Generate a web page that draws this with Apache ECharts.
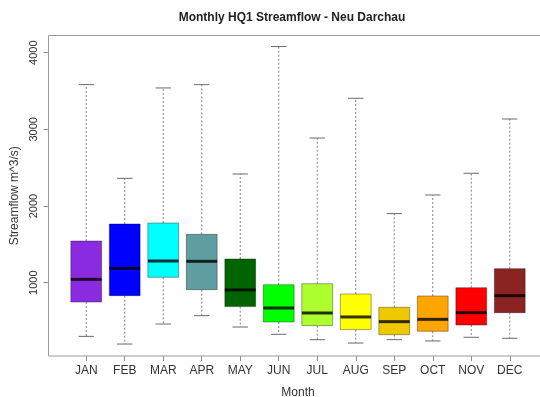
<!DOCTYPE html>
<html>
<head>
<meta charset="utf-8">
<title>Monthly HQ1 Streamflow - Neu Darchau</title>
<script src="https://cdn.jsdelivr.net/npm/echarts@6/dist/echarts.min.js"></script>
<style>
  html, body { margin: 0; padding: 0; background: #ffffff; }
  #chart { width: 540px; height: 397px; }
</style>
</head>
<body>
<div id="chart"></div>
<script>
// Monthly HQ1 streamflow at Neu Darchau (m^3/s): box-and-whisker statistics per month
const months      = ['JAN', 'FEB', 'MAR', 'APR', 'MAY', 'JUN', 'JUL', 'AUG', 'SEP', 'OCT', 'NOV', 'DEC'];
const whiskerLow  = [300, 200, 461, 570, 422, 327, 257, 213, 257, 240, 288, 275];
const quartile1   = [748, 831, 1070, 909, 688, 487, 440, 388, 322, 366, 448, 609];
const medians     = [1044, 1187, 1283, 1279, 905, 670, 605, 553, 492, 522, 609, 831];
const quartile3   = [1544, 1766, 1779, 1631, 1309, 974, 987, 853, 679, 827, 935, 1183];
const whiskerHigh = [3583, 2361, 3540, 3583, 2418, 4080, 2887, 3405, 1901, 2144, 2427, 3135];
const yTicks      = [1000, 2000, 3000, 4000];

// Fill colour of each month's box
const boxColors = ['#8a2be2', '#0000ff', '#00ffff', '#5f9ea0', '#006400', '#00ff00',
                   '#adff2f', '#ffff00', '#eec900', '#ffa500', '#ff0000', '#8b2323'];

const positions = months.map((_, k) => k + 1);
const boxData = months.map((_, k) => [positions[k], whiskerLow[k], quartile1[k], medians[k], quartile3[k], whiskerHigh[k]]);

function renderBox(params, api) {
  const x0 = api.value(0);
  const band = api.size([1, 0])[0];
  const half = band * 0.4;   // box half-width
  const cap = band * 0.2;    // staple half-width
  const pLo = api.coord([x0, api.value(1)]);
  const pQ1 = api.coord([x0, api.value(2)]);
  const pMed = api.coord([x0, api.value(3)]);
  const pQ3 = api.coord([x0, api.value(4)]);
  const pHi = api.coord([x0, api.value(5)]);
  const x = pQ1[0];
  const dash = { stroke: '#808080', lineWidth: 1, lineDash: [2, 2] };
  const staple = { stroke: '#6a6a6a', lineWidth: 1 };
  return {
    type: 'group',
    children: [
      { type: 'line', shape: { x1: x, y1: pQ3[1], x2: x, y2: pHi[1] }, style: dash },
      { type: 'line', shape: { x1: x, y1: pQ1[1], x2: x, y2: pLo[1] }, style: dash },
      { type: 'line', shape: { x1: x - cap, y1: pHi[1], x2: x + cap, y2: pHi[1] }, style: staple },
      { type: 'line', shape: { x1: x - cap, y1: pLo[1], x2: x + cap, y2: pLo[1] }, style: staple },
      {
        type: 'rect',
        shape: { x: x - half, y: pQ3[1], width: half * 2, height: pQ1[1] - pQ3[1] },
        style: { fill: boxColors[params.dataIndex], stroke: 'rgba(0,0,0,0.35)', lineWidth: 1 }
      },
      {
        type: 'line',
        shape: { x1: x - half, y1: pMed[1], x2: x + half, y2: pMed[1] },
        style: { stroke: 'rgba(0,0,0,0.8)', lineWidth: 3 }
      }
    ]
  };
}

const chart = echarts.init(document.getElementById('chart'), null, { renderer: 'canvas' });
const font = '"Liberation Sans", Arial, sans-serif';

chart.setOption({
  animation: false,
  backgroundColor: '#ffffff',
  title: {
    text: 'Monthly HQ1 Streamflow - Neu Darchau',
    left: 287,
    top: 7,
    textAlign: 'center',
    textStyle: { fontFamily: font, fontSize: 12, fontWeight: 'bold', color: '#222' }
  },
  grid: {
    left: 48.5, top: 35.5, width: 499, height: 320.5,
    outerBoundsMode: 'none',
    containLabel: false,
    show: true, borderColor: '#9a9a9a', borderWidth: 1, backgroundColor: 'transparent'
  },
  xAxis: {
    type: 'value',
    min: 0.02, max: 12.98,
    name: 'Month',
    nameLocation: 'middle',
    nameGap: 31,
    nameTextStyle: { fontFamily: font, fontSize: 12, color: '#333' },
    axisLine: { show: false },
    splitLine: { show: false },
    axisTick: { show: true, length: 5, inside: false, customValues: positions, lineStyle: { color: '#8a8a8a' } },
    axisLabel: {
      customValues: positions,
      margin: 9,
      fontFamily: font, fontSize: 12, color: '#333',
      formatter: v => months[Math.round(v) - 1] || ''
    }
  },
  yAxis: {
    type: 'value',
    min: 44, max: 4224,
    name: 'Streamflow m^3/s)',
    nameLocation: 'middle',
    nameGap: 28,
    nameRotate: 90,
    nameTextStyle: { fontFamily: font, fontSize: 12, color: '#333' },
    axisLine: { show: false },
    splitLine: { show: false },
    axisTick: { show: true, length: 5, inside: false, customValues: yTicks, lineStyle: { color: '#8a8a8a' } },
    axisLabel: {
      customValues: yTicks,
      rotate: 90,
      margin: 9,
      fontFamily: font, fontSize: 11, color: '#333',
      formatter: v => String(v)
    }
  },
  series: [{
    type: 'custom',
    renderItem: renderBox,
    encode: { x: 0, y: [1, 2, 3, 4, 5] },
    data: boxData,
    clip: false
  }]
});
</script>
</body>
</html>
